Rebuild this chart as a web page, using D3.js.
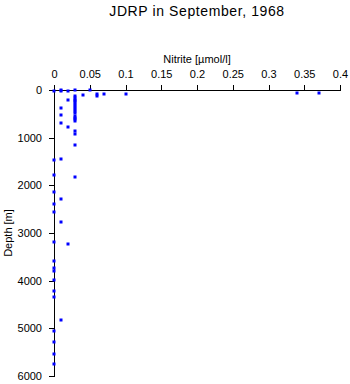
<!DOCTYPE html>
<html>
<head>
<meta charset="utf-8">
<script src="https://cdn.jsdelivr.net/npm/d3@7"></script>
<style>
  body { margin: 0; background: #fff; }
  svg text { font-family: "Liberation Sans", Arial, Helvetica, sans-serif; fill: #000; }
</style>
</head>
<body>
<div id="chart"></div>
<script>
// nitrite [umol/l] and depth [m] of each sample
var nitrite = [
  0, 0, 0, 0, 0, 0, 0, 0, 0, 0, 0, 0, 0, 0, 0, 0, 0,
  0.01, 0.01, 0.01, 0.01, 0.01, 0.01, 0.01, 0.01, 0.01,
  0.02, 0.02, 0.02, 0.02,
  0.03, 0.03, 0.03, 0.03, 0.03, 0.03, 0.03, 0.03, 0.03, 0.03,
  0.03, 0.03, 0.03, 0.03, 0.03, 0.03, 0.03, 0.03, 0.03,
  0.04, 0.05, 0.06, 0.06, 0.07, 0.1, 0.34, 0.37
];
var depth = [
  25, 1460, 1775, 2140, 2385, 2550, 3180, 3595, 3740, 3790, 3995, 4215, 4335, 5065, 5295, 5545, 5740,
  0, 30, 371, 518, 700, 1440, 2290, 2762, 4816,
  15, 200, 777, 3237,
  0, 130, 165, 200, 235, 270, 315, 350, 400, 440,
  475, 545, 580, 615, 650, 870, 930, 1150, 1820,
  115, 5, 90, 125, 78, 78, 57, 57
];
var xTicks = [0, 0.05, 0.1, 0.15, 0.2, 0.25, 0.3, 0.35, 0.4];
var yTicks = [0, 1000, 2000, 3000, 4000, 5000, 6000];
var title = "JDRP in September, 1968";
var xTitle = "Nitrite [\u00b5mol/l]";
var yTitle = "Depth [m]";

var width = 350, height = 384;
var margin = { left: 54, top: 90, right: 10, bottom: 8 };

var svg = d3.select("#chart").append("svg")
  .attr("width", width)
  .attr("height", height);

var x = d3.scaleLinear().domain([0, 0.4]).range([margin.left, width - margin.right]);
var y = d3.scaleLinear().domain([0, 6000]).range([margin.top, height - margin.bottom]);

// title
svg.append("text")
  .attr("x", 197)
  .attr("y", 16)
  .attr("text-anchor", "middle")
  .style("font-size", "14px")
  .style("letter-spacing", "0.6px")
  .text(title);

// x axis on top
var gx = svg.append("g")
  .attr("transform", "translate(0," + margin.top + ")")
  .call(d3.axisTop(x).tickValues(xTicks).tickSize(5).tickSizeOuter(0).tickPadding(7)
    .tickFormat(function(d){ return String(d); }));

// y axis
var gy = svg.append("g")
  .attr("transform", "translate(" + margin.left + ",0)")
  .call(d3.axisLeft(y).tickValues(yTicks).tickSize(5).tickSizeOuter(0).tickPadding(7)
    .tickFormat(function(d){ return String(d); }));

svg.selectAll(".tick text").style("font-size", "11px").attr("font-family", null);
svg.selectAll(".domain, .tick line").attr("stroke", "#000").attr("shape-rendering", "crispEdges");

svg.append("text")
  .attr("x", 197)
  .attr("y", 63)
  .attr("text-anchor", "middle")
  .style("font-size", "11px")
  .text(xTitle);

svg.append("text")
  .attr("transform", "translate(12," + (y(3000)) + ") rotate(-90)")
  .attr("text-anchor", "middle")
  .style("font-size", "11px")
  .text(yTitle);

// samples
var pts = d3.range(nitrite.length).map(function(i){ return [nitrite[i], depth[i]]; });
svg.append("g").selectAll("rect")
  .data(pts)
  .enter()
  .append("rect")
  .attr("x", function(d){ return Math.round(x(d[0])) - 1.5; })
  .attr("y", function(d){ return Math.round(y(d[1])) - 1.5; })
  .attr("width", 3)
  .attr("height", 3)
  .attr("fill", "#0000ff");
</script>
</body>
</html>
